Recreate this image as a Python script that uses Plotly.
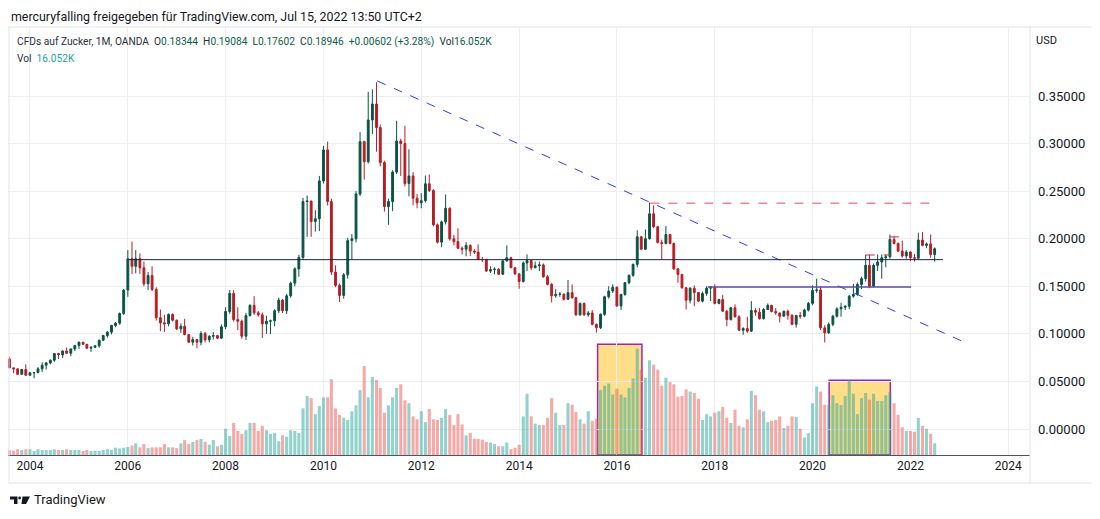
import pandas as pd
import plotly.graph_objects as go

# Zucker CFD (OANDA), Monatskerzen Aug 2003 - Jul 2022
months = pd.date_range("2003-08-01", "2022-07-01", freq="MS")

first_open = 0.0737

closes = [
    0.0642, 0.0632, 0.0575, 0.0625, 0.0565,  # 2003
    0.0590, 0.0593, 0.0632, 0.0670, 0.0695, 0.0723, 0.0793, 0.0779, 0.0820, 0.0796, 0.0842, 0.0877,  # 2004
    0.0912, 0.0890, 0.0849, 0.0858, 0.0874, 0.0933, 0.0982, 0.1018, 0.1088, 0.1112, 0.1214, 0.1460,  # 2005
    0.1790, 0.1710, 0.1790, 0.1695, 0.1526, 0.1614, 0.1467, 0.1170, 0.1116, 0.1105, 0.1204, 0.1144,  # 2006
    0.1053, 0.1080, 0.0993, 0.0912, 0.0940, 0.0912, 0.1004, 0.0937, 0.0975, 0.0982, 0.0955, 0.1074,  # 2007
    0.1235, 0.1425, 0.1150, 0.1133, 0.0975, 0.1193, 0.1300, 0.1221, 0.1200, 0.1105, 0.1133, 0.1137,  # 2008
    0.1243, 0.1355, 0.1243, 0.1400, 0.1533, 0.1683, 0.1803, 0.2390, 0.2396, 0.2180, 0.2210, 0.2607,  # 2009
    0.2933, 0.2390, 0.1649, 0.1510, 0.1404, 0.1620, 0.1980, 0.1999, 0.2470, 0.3020, 0.2810, 0.3248,  # 2010
    0.3416, 0.3168, 0.2800, 0.2338, 0.2390, 0.2700, 0.3027, 0.3000, 0.2580, 0.2660, 0.2426, 0.2377,  # 2011
    0.2400, 0.2577, 0.2507, 0.2146, 0.1964, 0.2177, 0.2320, 0.2000, 0.1970, 0.1900, 0.1890, 0.1930,  # 2012
    0.1870, 0.1860, 0.1782, 0.1780, 0.1660, 0.1675, 0.1680, 0.1627, 0.1767, 0.1800, 0.1695, 0.1630,  # 2013
    0.1550, 0.1746, 0.1770, 0.1695, 0.1715, 0.1725, 0.1600, 0.1520, 0.1400, 0.1415, 0.1417, 0.1363,  # 2014
    0.1433, 0.1380, 0.1200, 0.1320, 0.1200, 0.1220, 0.1100, 0.1065, 0.1205, 0.1390, 0.1450, 0.1490,  # 2015
    0.1293, 0.1415, 0.1538, 0.1615, 0.1730, 0.2020, 0.1890, 0.2000, 0.2262, 0.2126, 0.1960, 0.1950,  # 2016
    0.2045, 0.1950, 0.1684, 0.1625, 0.1484, 0.1354, 0.1480, 0.1435, 0.1344, 0.1425, 0.1480, 0.1490,  # 2017
    0.1320, 0.1360, 0.1238, 0.1150, 0.1274, 0.1180, 0.1038, 0.1056, 0.1028, 0.1245, 0.1228, 0.1160,  # 2018
    0.1256, 0.1300, 0.1235, 0.1220, 0.1186, 0.1238, 0.1196, 0.1100, 0.1193, 0.1185, 0.1250, 0.1320,  # 2019
    0.1455, 0.1462, 0.1063, 0.1010, 0.1100, 0.1186, 0.1263, 0.1280, 0.1290, 0.1396, 0.1414, 0.1520,  # 2020
    0.1580, 0.1720, 0.1500, 0.1720, 0.1755, 0.1800, 0.1810, 0.1993, 0.1950, 0.1870, 0.1818, 0.1860,  # 2021
    0.1800, 0.1795, 0.1986, 0.1930, 0.1945, 0.18344, 0.18946,  # 2022
]

highs = [
    0.0761, 0.0648, 0.0634, 0.0632, 0.0680,
    0.0600, 0.0600, 0.0650, 0.0700, 0.0703, 0.0730, 0.0795, 0.0800, 0.0825, 0.0856, 0.0845, 0.0885,
    0.0920, 0.0916, 0.0895, 0.0870, 0.0880, 0.0940, 0.0990, 0.1030, 0.1095, 0.1125, 0.1225, 0.1470,
    0.1880, 0.1970, 0.1880, 0.1846, 0.1760, 0.1650, 0.1710, 0.1490, 0.1256, 0.1200, 0.1215, 0.1215,
    0.1150, 0.1110, 0.1158, 0.0995, 0.0968, 0.0945, 0.1028, 0.1020, 0.0985, 0.1020, 0.0990, 0.1100,
    0.1280, 0.1460, 0.1460, 0.1280, 0.1150, 0.1220, 0.1310, 0.1396, 0.1240, 0.1225, 0.1190, 0.1150,
    0.1260, 0.1380, 0.1365, 0.1420, 0.1550, 0.1700, 0.1830, 0.2430, 0.2454, 0.2400, 0.2300, 0.2660,
    0.2975, 0.3020, 0.2420, 0.1720, 0.1530, 0.1640, 0.2010, 0.2050, 0.2500, 0.3120, 0.3030, 0.3545,
    0.3570, 0.3644, 0.3200, 0.2820, 0.2420, 0.2720, 0.3240, 0.3050, 0.3188, 0.2940, 0.2700, 0.2470,
    0.2480, 0.2664, 0.2675, 0.2520, 0.2160, 0.2190, 0.2465, 0.2330, 0.2040, 0.2110, 0.1920, 0.1965,
    0.1940, 0.1890, 0.1940, 0.1810, 0.1790, 0.1710, 0.1700, 0.1690, 0.1775, 0.1930, 0.1810, 0.1700,
    0.1640, 0.1760, 0.1835, 0.1780, 0.1760, 0.1760, 0.1740, 0.1620, 0.1535, 0.1470, 0.1440, 0.1425,
    0.1566, 0.1520, 0.1390, 0.1330, 0.1330, 0.1240, 0.1250, 0.1110, 0.1215, 0.1400, 0.1500, 0.1520,
    0.1500, 0.1420, 0.1545, 0.1625, 0.1740, 0.2090, 0.2030, 0.2098, 0.2380, 0.2350, 0.2135, 0.1990,
    0.2133, 0.2050, 0.1960, 0.1690, 0.1630, 0.1490, 0.1490, 0.1510, 0.1440, 0.1445, 0.1500, 0.1500,
    0.1520, 0.1370, 0.1410, 0.1250, 0.1285, 0.1310, 0.1195, 0.1070, 0.1180, 0.1344, 0.1270, 0.1270,
    0.1270, 0.1320, 0.1305, 0.1270, 0.1210, 0.1245, 0.1255, 0.1205, 0.1200, 0.1230, 0.1265, 0.1335,
    0.1510, 0.1580, 0.1500, 0.1090, 0.1120, 0.1200, 0.1280, 0.1326, 0.1300, 0.1410, 0.1526, 0.1540,
    0.1600, 0.1830, 0.1830, 0.1740, 0.1835, 0.1835, 0.1835, 0.2045, 0.2030, 0.1960, 0.1980, 0.1880,
    0.1870, 0.1840, 0.2063, 0.2070, 0.1960, 0.2045, 0.19084,
]

lows = [
    0.0640, 0.0586, 0.0572, 0.0572, 0.0563,
    0.0560, 0.0533, 0.0585, 0.0597, 0.0625, 0.0680, 0.0705, 0.0737, 0.0745, 0.0790, 0.0765, 0.0820,
    0.0842, 0.0885, 0.0845, 0.0810, 0.0850, 0.0855, 0.0925, 0.0960, 0.0995, 0.1070, 0.1095, 0.1200,
    0.1390, 0.1628, 0.1635, 0.1630, 0.1500, 0.1460, 0.1450, 0.1140, 0.1028, 0.1020, 0.1080, 0.1130,
    0.1040, 0.1010, 0.0985, 0.0905, 0.0877, 0.0849, 0.0880, 0.0910, 0.0910, 0.0940, 0.0945, 0.0950,
    0.1050, 0.1210, 0.1130, 0.1040, 0.0950, 0.0935, 0.1180, 0.1200, 0.1180, 0.0958, 0.1000, 0.0997,
    0.1080, 0.1220, 0.1220, 0.1210, 0.1380, 0.1500, 0.1600, 0.1780, 0.2020, 0.2020, 0.2075, 0.2080,
    0.2580, 0.2350, 0.1620, 0.1490, 0.1335, 0.1370, 0.1580, 0.1780, 0.1960, 0.2450, 0.2620, 0.2790,
    0.3100, 0.2915, 0.2760, 0.2285, 0.2146, 0.2290, 0.2680, 0.2660, 0.2550, 0.2445, 0.2350, 0.2320,
    0.2320, 0.2380, 0.2490, 0.2130, 0.1950, 0.1910, 0.2150, 0.1980, 0.1930, 0.1890, 0.1835, 0.1815,
    0.1820, 0.1840, 0.1775, 0.1755, 0.1650, 0.1640, 0.1625, 0.1620, 0.1620, 0.1760, 0.1690, 0.1620,
    0.1474, 0.1540, 0.1660, 0.1670, 0.1690, 0.1660, 0.1590, 0.1510, 0.1330, 0.1380, 0.1390, 0.1350,
    0.1355, 0.1370, 0.1190, 0.1190, 0.1190, 0.1180, 0.1090, 0.1013, 0.1050, 0.1190, 0.1370, 0.1430,
    0.1285, 0.1250, 0.1400, 0.1520, 0.1600, 0.1700, 0.1880, 0.1880, 0.1990, 0.2110, 0.1950, 0.1780,
    0.1940, 0.1940, 0.1670, 0.1537, 0.1475, 0.1256, 0.1320, 0.1290, 0.1335, 0.1330, 0.1400, 0.1345,
    0.1310, 0.1310, 0.1230, 0.1080, 0.1140, 0.1170, 0.1030, 0.0990, 0.1010, 0.1020, 0.1190, 0.1150,
    0.1150, 0.1250, 0.1225, 0.1200, 0.1120, 0.1180, 0.1150, 0.1090, 0.1066, 0.1160, 0.1175, 0.1235,
    0.1300, 0.1430, 0.1040, 0.0910, 0.1000, 0.1080, 0.1170, 0.1180, 0.1250, 0.1260, 0.1380, 0.1400,
    0.1470, 0.1550, 0.1480, 0.1490, 0.1660, 0.1580, 0.1700, 0.1790, 0.1940, 0.1860, 0.1800, 0.1790,
    0.1765, 0.1760, 0.1780, 0.1920, 0.1900, 0.1800, 0.17602,
]

# Volumen in Tausend
volumes = [
    7, 6, 8, 7, 8,
    8, 5.5, 8, 7, 7, 7, 8, 7, 7, 8, 7, 7,
    7, 5.5, 7, 5.5, 5.5, 5.5, 7, 8, 7, 10, 9, 10,
    11, 13, 16, 10.5, 15, 9.5, 10.5, 10.5, 10.5, 15, 10.5, 10.5,
    9.5, 16, 20.5, 15, 18, 20.5, 22, 18, 14, 20.5, 12, 14,
    36, 26, 44, 33, 29, 34, 44, 44, 33, 40, 34, 29,
    30, 19, 27, 25, 34, 33, 30, 64, 81, 78, 56, 67,
    79, 79, 104, 64, 55, 51, 48, 60, 68, 89, 122, 79,
    107, 103, 92, 58, 68, 79, 92, 97, 75, 71, 53, 49,
    60, 45, 63, 49, 48, 51, 63, 55, 41, 56, 42, 27,
    30, 22, 22, 21, 18, 17, 15, 12, 12, 17, 8, 10,
    14, 53, 84, 53, 43, 41, 41, 51, 78, 58, 41, 41,
    71, 69, 59, 49, 43, 60, 47, 50, 89, 95, 98, 83,
    91, 83, 79, 92, 105, 146, 117, 106, 130, 124, 117, 95,
    106, 100, 97, 80, 81, 90, 87, 85, 77, 48, 56, 53,
    58, 60, 66, 51, 44, 62, 40, 38, 49, 88, 82, 62,
    60, 45, 47, 48, 53, 37, 40, 53, 52, 36, 24, 30,
    71, 94, 87, 69, 69, 82, 71, 68.5, 81, 103, 84, 56,
    78, 85, 76, 84, 74, 74, 82, 86, 71, 55, 38, 33,
    33, 32, 51, 40, 36, 29, 16.052,
]

# Open = Schlusskurs des Vormonats
opens = [first_open] + closes[:-1]

# Zeichnungen
trend_dates = ["2011-02-07", "2023-02-22"]
trend_prices = [0.3658, 0.0904]
support_dates = ["2006-01-05", "2022-09-01"]
support_price = 0.178
resist_dates = ["2016-09-07", "2022-06-01"]
resist_price = 0.2372
range_dates = ["2017-11-10", "2022-01-06"]
range_price = 0.1492
small_dash_dates = [["2021-02-01", "2021-08-01"], ["2021-08-01", "2021-11-01"]]
small_dash_prices = [0.1829, 0.2020]
vol_box_start = ["2015-08-10", "2020-05-04"]
vol_box_end = ["2016-07-06", "2021-08-04"]
vol_box_top = [152, 102.5]

UP = "#0a5444"
DOWN = "#b81d24"
TXT = "#131722"
GRID = "#eceef2"

# Koordinaten wie im Screenshot; die Seite hat 8px Rand
OFF = 8
W, H = 1100 - 2 * OFF, 519 - 2 * OFF
PL, PR, PT, PB = 8, 1030, 28, 455
def px(x):
    return (x - PL) / (PR - PL)
def py(y):
    return (PB - y) / (PB - PT)

vol_colors = ["rgba(38,166,154,0.5)" if c >= o else "rgba(239,83,80,0.5)"
              for o, c in zip(opens, closes)]

fig = go.Figure()

fig.add_trace(go.Candlestick(
    x=months, open=opens, high=highs, low=lows, close=closes,
    increasing=dict(line=dict(color=UP, width=1), fillcolor=UP),
    decreasing=dict(line=dict(color=DOWN, width=1), fillcolor=DOWN),
    whiskerwidth=0, yaxis="y", hoverinfo="skip",
))

fig.add_trace(go.Bar(
    x=months, y=volumes, yaxis="y2",
    marker=dict(color=vol_colors, line=dict(width=0)),
    width=23 * 86400000, hoverinfo="skip",
))

shapes = []
for x0, x1, top in zip(vol_box_start, vol_box_end, vol_box_top):
    shapes.append(dict(type="rect", xref="x", yref="y2", x0=x0, x1=x1, y0=0, y1=top,
                       fillcolor="rgba(255,183,0,0.46)", line=dict(color="#9c27b0", width=1.5),
                       layer="below"))

shapes.append(dict(type="line", xref="x", yref="y", x0=trend_dates[0], x1=trend_dates[1],
                   y0=trend_prices[0], y1=trend_prices[1],
                   line=dict(color="#2e3bff", width=1, dash="dash")))
shapes.append(dict(type="line", xref="x", yref="y", x0=support_dates[0], x1=support_dates[1],
                   y0=support_price, y1=support_price, line=dict(color="#1a2050", width=1)))
shapes.append(dict(type="line", xref="x", yref="y", x0=resist_dates[0], x1=resist_dates[1],
                   y0=resist_price, y1=resist_price,
                   line=dict(color="rgba(242,54,69,0.6)", width=1.5, dash="dash")))
shapes.append(dict(type="line", xref="x", yref="y", x0=range_dates[0], x1=range_dates[1],
                   y0=range_price, y1=range_price,
                   line=dict(color="rgba(92,70,185,0.75)", width=2)))
for (d0, d1), p in zip(small_dash_dates, small_dash_prices):
    shapes.append(dict(type="line", xref="x", yref="y", x0=d0, x1=d1, y0=p, y1=p,
                       line=dict(color="rgba(200,60,60,0.7)", width=1.5, dash="dash")))

# Rahmen
border = "#e0e3eb"
shapes.append(dict(type="line", xref="paper", yref="paper", x0=px(8), x1=px(1100),
                   y0=py(27), y1=py(27), line=dict(color=border, width=1)))
shapes.append(dict(type="line", xref="paper", yref="paper", x0=px(9), x1=px(9),
                   y0=py(27), y1=py(483), line=dict(color=border, width=1)))
shapes.append(dict(type="line", xref="paper", yref="paper", x0=px(9), x1=px(1100),
                   y0=py(483), y1=py(483), line=dict(color=border, width=1)))
shapes.append(dict(type="line", xref="paper", yref="paper", x0=px(1030), x1=px(1030),
                   y0=py(27), y1=py(483), line=dict(color=border, width=1)))

# TradingView Logo
shapes.append(dict(type="path", xref="paper", yref="paper", fillcolor=TXT, line=dict(width=0),
                   path="M {} {} L {} {} L {} {} L {} {} L {} {} L {} {} Z".format(
                       px(10), py(496.5), px(17.5), py(496.5), px(17.5), py(504),
                       px(14), py(504), px(14), py(499.5), px(10), py(499.5))))
shapes.append(dict(type="circle", xref="paper", yref="paper", fillcolor=TXT, line=dict(width=0),
                   x0=px(18.3), x1=px(21), y0=py(496.6), y1=py(499.4)))
shapes.append(dict(type="path", xref="paper", yref="paper", fillcolor=TXT, line=dict(width=0),
                   path="M {} {} L {} {} L {} {} L {} {} Z".format(
                       px(22.5), py(496.5), px(30), py(496.5), px(26), py(504), px(21.5), py(504))))

G = "#0b5e4b"
sp = "\u00a0\u00a0"
legend_txt = ("CFDs auf Zucker, 1M, OANDA" + sp
              + f"O<span style='color:{G}'>0.18344</span>" + sp
              + f"H<span style='color:{G}'>0.19084</span>" + sp
              + f"L<span style='color:{G}'>0.17602</span>" + sp
              + f"C<span style='color:{G}'>0.18946</span>" + sp
              + f"<span style='color:{G}'>+0.00602 (+3.28%)</span>" + sp
              + f"Vol<span style='color:{G}'>16.052K</span>")

annotations = [
    dict(x=px(10), y=py(8), yanchor="top", borderpad=0,
         text="mercuryfalling freigegeben für TradingView.com, Jul 15, 2022 13:50 UTC+2",
         font=dict(size=12.4, color=TXT)),
    dict(x=px(15), y=py(42), text=legend_txt, font=dict(size=10.2, color="#2a2e39")),
    dict(x=px(15), y=py(59), text="Vol\u00a0\u00a0<span style='color:#26a69a'>16.052K</span>",
         font=dict(size=10.2, color="#2a2e39")),
    dict(x=px(1034), y=py(40), text="USD", font=dict(size=11, color=TXT)),
    dict(x=px(32), y=py(500), text="TradingView", font=dict(size=13, color=TXT)),
]
for a in annotations:
    a.setdefault("yanchor", "middle")
    a.update(xref="paper", yref="paper", xanchor="left", showarrow=False)

fig.update_layout(
    width=W, height=H,
    margin=dict(l=PL - OFF, r=(W + OFF) - PR, t=PT - OFF, b=(H + OFF) - PB),
    paper_bgcolor="white", plot_bgcolor="white",
    showlegend=False,
    font=dict(family="Roboto, sans-serif", color=TXT, size=11),
    xaxis=dict(
        type="date", range=["2003-07-21", "2024-06-12"],
        tick0="2004-01-01", dtick="M24", tickformat="%Y",
        showgrid=True, gridcolor=GRID, gridwidth=1,
        showline=True, linecolor="#50535e", linewidth=1,
        ticks="", tickfont=dict(size=12, color=TXT),
        rangeslider=dict(visible=False), zeroline=False, fixedrange=True,
    ),
    yaxis=dict(
        side="right", range=[(429 - 455) / 951.4, (429 - 28) / 951.4],
        tickvals=[0, 0.05, 0.10, 0.15, 0.20, 0.25, 0.30, 0.35], tickformat=".5f",
        showgrid=True, gridcolor=GRID, gridwidth=1, zeroline=False,
        ticks="", ticklabelstandoff=7, tickfont=dict(size=13, color=TXT),
        showline=False,
    ),
    yaxis2=dict(
        overlaying="y", range=[0, (455.5 - 28) * 1.37], visible=False, showgrid=False,
    ),
    shapes=shapes,
    annotations=annotations,
)

fig.write_html("out.html")
